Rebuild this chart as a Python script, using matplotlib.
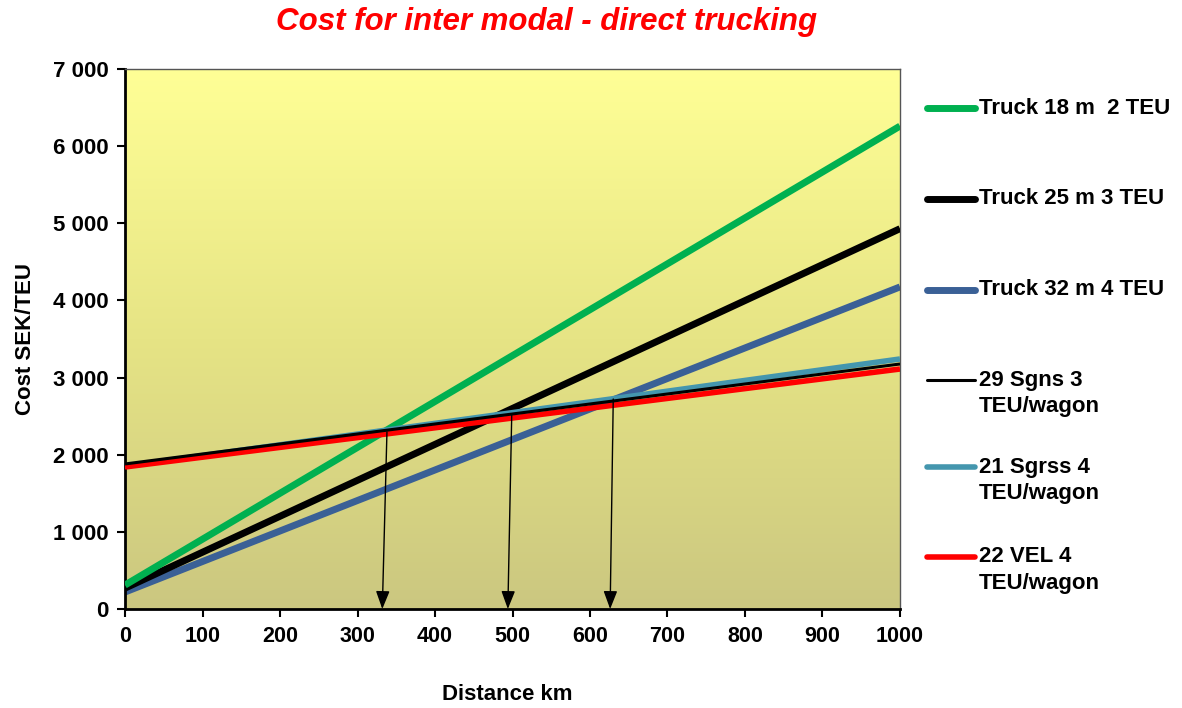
import numpy as np
import matplotlib
matplotlib.use("Agg")
import matplotlib.pyplot as plt
from matplotlib.colors import LinearSegmentedColormap
from matplotlib.lines import Line2D

plt.rcParams['font.family'] = ['Liberation Sans', 'DejaVu Sans']

distance = [0, 1000]
series_names = ["Truck 18 m  2 TEU", "Truck 25 m 3 TEU", "Truck 32 m 4 TEU",
                "29 Sgns 3\nTEU/wagon", "21 Sgrss 4\nTEU/wagon", "22 VEL 4\nTEU/wagon"]
truck18 = [310, 6260]
truck25 = [270, 4930]
truck32 = [220, 4175]
sgns29 = [1880, 3176]
sgrss21 = [1850, 3241]
vel22 = [1841, 3111]
series_values = [truck18, truck25, truck32, sgns29, sgrss21, vel22]
series_colors = ["#00B050", "#000000", "#3A6096", "#000000", "#4496AE", "#FF0000"]
series_widths = [5, 5, 5, 2.2, 4, 4]
draw_order = [2, 1, 0, 4, 5, 3]

# break-even arrows: (start x, start y) -> end x at 0
arrow_start_x = [338, 499, 630]
arrow_start_y = [2295, 2515, 2722]
arrow_end_x = [332, 494, 626]

xticks = list(range(0, 1001, 100))
yticks = list(range(0, 7001, 1000))
ytick_labels = ["0" if v == 0 else f"{v // 1000} {v % 1000:03d}" for v in yticks]

W, H = 1182, 708
fig = plt.figure(figsize=(W / 100, H / 100), dpi=100)
ax = fig.add_axes([125 / W, 99 / H, 775 / W, 540 / H])
ax.set_xlim(0, 1000)
ax.set_ylim(0, 7000)

cmap = LinearSegmentedColormap.from_list("bg", ["#CBC780", "#E6E485", "#FFFF96"])
grad = np.linspace(0, 1, 256).reshape(-1, 1)
ax.imshow(grad, cmap=cmap, aspect="auto", extent=[0, 1000, 0, 7000],
          origin="lower", zorder=0)

for z, i in enumerate(draw_order):
    ax.plot(distance, series_values[i], color=series_colors[i],
            lw=series_widths[i], solid_capstyle="butt", zorder=2 + z)

for sx, sy, ex in zip(arrow_start_x, arrow_start_y, arrow_end_x):
    ax.annotate("", xy=(ex, 0), xytext=(sx, sy),
                arrowprops=dict(arrowstyle="-|>,head_length=1.1,head_width=0.42",
                                color="black", lw=1.0, shrinkA=0, shrinkB=0),
                zorder=20)

ax.set_xticks(xticks)
ax.set_xticklabels([str(v) for v in xticks], fontsize=15.5, fontweight="bold")
ax.set_yticks(yticks)
ax.set_yticklabels(ytick_labels, fontsize=16, fontweight="bold")
ax.tick_params(axis="both", direction="out", length=6, width=1.5, pad=6)
for sp in ["left", "bottom"]:
    ax.spines[sp].set_linewidth(2)
for sp in ["top", "right"]:
    ax.spines[sp].set_linewidth(1)
    ax.spines[sp].set_color("#555555")

fig.text(507 / W, 1 - 694 / H, "Distance km", fontsize=16, fontweight="bold",
         ha="center", va="center")
ax.set_ylabel("Cost SEK/TEU", fontsize=16, fontweight="bold", labelpad=12)

fig.text(547 / W, 1 - 22 / H, "Cost for inter modal - direct trucking",
         color="#FF0000", fontsize=22.5, fontweight="bold", fontstyle="italic",
         ha="center", va="center")

# legend (manual layout)
legend_y = [108, 199, 290, 380, 467, 557]
line_gap = 27
for i, name in enumerate(series_names):
    y = 1 - legend_y[i] / H
    fig.add_artist(Line2D([927 / W, 975 / W], [y, y], transform=fig.transFigure,
                          color=series_colors[i], lw=series_widths[i],
                          solid_capstyle="round"))
    for k, part in enumerate(name.split("\n")):
        fig.text(979 / W, 1 - (legend_y[i] + k * line_gap) / H, part,
                 fontsize=16, fontweight="bold", ha="left", va="center")

fig.savefig("out.png", dpi=100, facecolor="white")
